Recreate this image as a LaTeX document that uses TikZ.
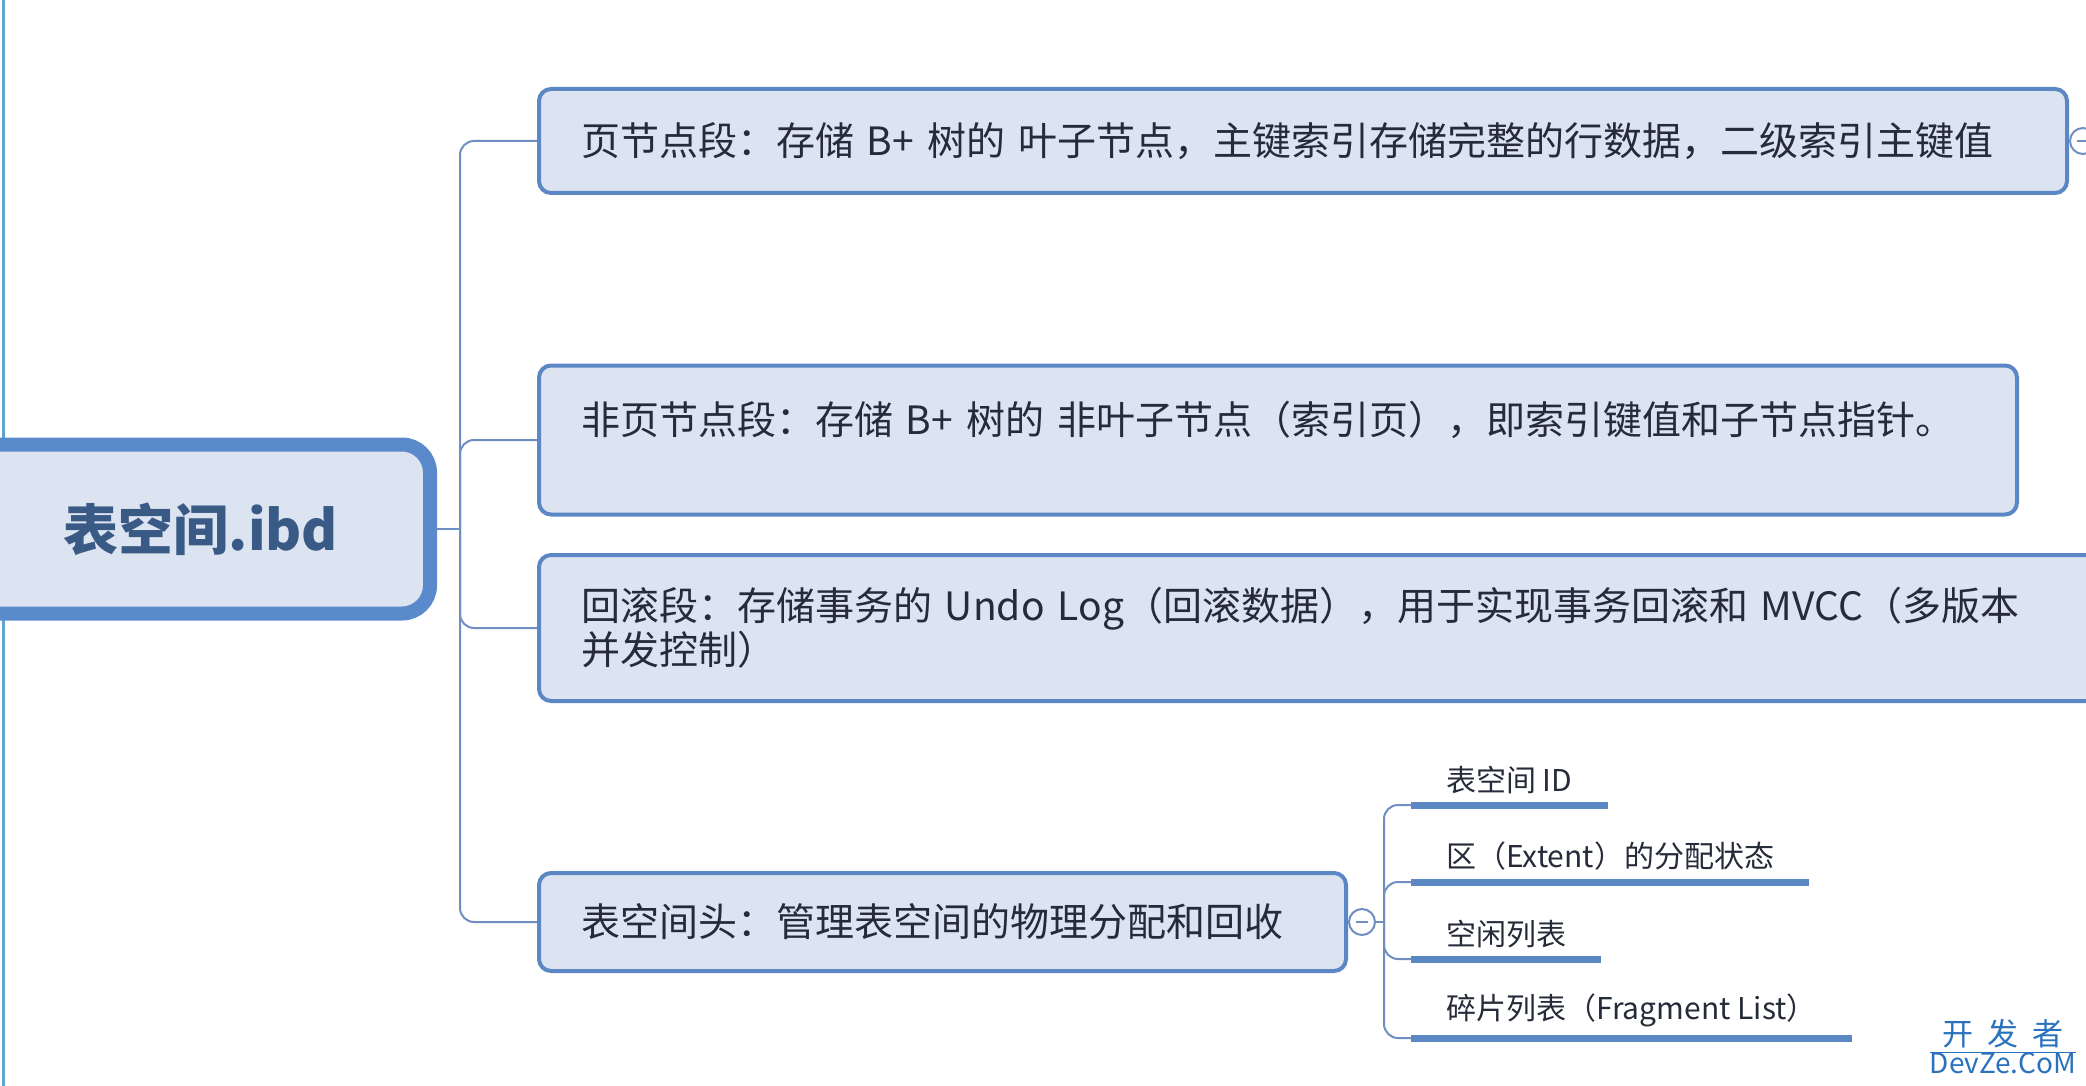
\documentclass[tikz,border=0pt]{standalone}
\usepackage{fontspec}
\setmainfont{Noto Sans CJK SC}
\usetikzlibrary{positioning}
\definecolor{boxfill}{HTML}{DCE3F1}
\definecolor{boxline}{HTML}{5B87C5}
\definecolor{rootline}{HTML}{5A8ACB}
\definecolor{linkline}{HTML}{6F8FC2}
\definecolor{sideline}{HTML}{63A3D3}
\definecolor{inktext}{HTML}{262B3A}
\definecolor{roottext}{HTML}{3A5A86}
\definecolor{markblue}{HTML}{2A72BE}

\tikzset{
segbox/.style={draw=boxline, line width=4pt, fill=boxfill, rounded corners=12pt, anchor=west,
  align=left, inner xsep=42pt, inner ysep=0pt, text=inktext, font=\fontsize{39}{44}\selectfont},
rootbox/.style={draw=rootline, line width=14pt, fill=boxfill, rounded corners=28pt, anchor=east,
  minimum width=480pt, minimum height=169pt, text=roottext, font=\bfseries\fontsize{55}{60}\selectfont},
link/.style={draw=linkline, line width=2pt, rounded corners=14pt},
leaf/.style={anchor=south west, inner xsep=35pt, inner ysep=11pt, text=inktext, font=\fontsize{30}{36}\selectfont},
underline/.style={draw=boxline, line width=7pt},
fold/.style={circle, draw=linkline, line width=2pt, fill=white, minimum size=26pt, inner sep=0pt,
  path picture={\draw[linkline, line width=2pt] ([xshift=-6pt]path picture bounding box.center) -- ([xshift=6pt]path picture bounding box.center);}}
}

\begin{document}
\begin{tikzpicture}[x=1pt, y=-1pt]
\useasboundingbox (0,0) rectangle (2086,1086);
\clip (0,0) rectangle (2086,1086);
\draw[sideline, line width=3pt] (3,0) -- (3,1086);

\node[rootbox] (root) at (437,529) {\hspace*{22pt}表空间.ibd};
\coordinate (trunk) at (460,529);

\node[segbox, minimum height=104pt, text width=1444pt] (seg1) at (537,141)
  {页节点段：存储 B+ 树的 叶子节点，主键索引存储完整的行数据，二级索引主键值};
\node[segbox, minimum height=149pt, text width=1394pt] (seg2) at (537,440)
  {非页节点段：存储 B+ 树的 非叶子节点（索引页），即索引键值和子节点指针。\\ \mbox{}};
\node[segbox, minimum height=146pt, text width=1538pt] (seg3) at (537,628)
  {回滚段：存储事务的 Undo Log（回滚数据），用于实现事务回滚和 MVCC（多版本\\并发控制）};
\node[segbox, minimum height=98pt, text width=723pt] (seg4) at (537,922)
  {表空间头：管理表空间的物理分配和回收};

\draw[link] (root.east) -- (trunk);
\foreach \i in {1,...,4}
  \draw[link] (trunk) |- (seg\i.west);

\node[fold] (fold1) at (2083,141) {};
\node[fold] (fold4) at (1362,922) {};
\draw[link] (seg1.east) -- (fold1.west);
\draw[link] (seg4.east) -- (fold4.west);
\coordinate (subtrunk) at (1384,922);
\draw[link] (fold4.east) -- (subtrunk);

\foreach \i/\y/\txt in {1/805/表空间 ID, 2/882/区（Extent）的分配状态, 3/959/空闲列表, 4/1038/碎片列表（Fragment List）}
{
\node[leaf] (leaf\i) at (1411,\y) {\txt};
\draw[underline] (leaf\i.south west) -- (leaf\i.south east);
\draw[link] (subtrunk) |- (leaf\i.south west);
}

\node[text=markblue, font=\fontsize{31}{32}\selectfont, inner sep=0pt] (mark1) at (2003,1034) {开\hspace{14pt}发\hspace{14pt}者};
\node[text=markblue, font=\fontsize{28}{32}\selectfont, inner sep=0pt, below=4pt of mark1] (mark2) {DevZe.CoM};
\draw[markblue, line width=0.8pt] (mark2.north west) -- (mark2.north east);
\end{tikzpicture}
\end{document}
